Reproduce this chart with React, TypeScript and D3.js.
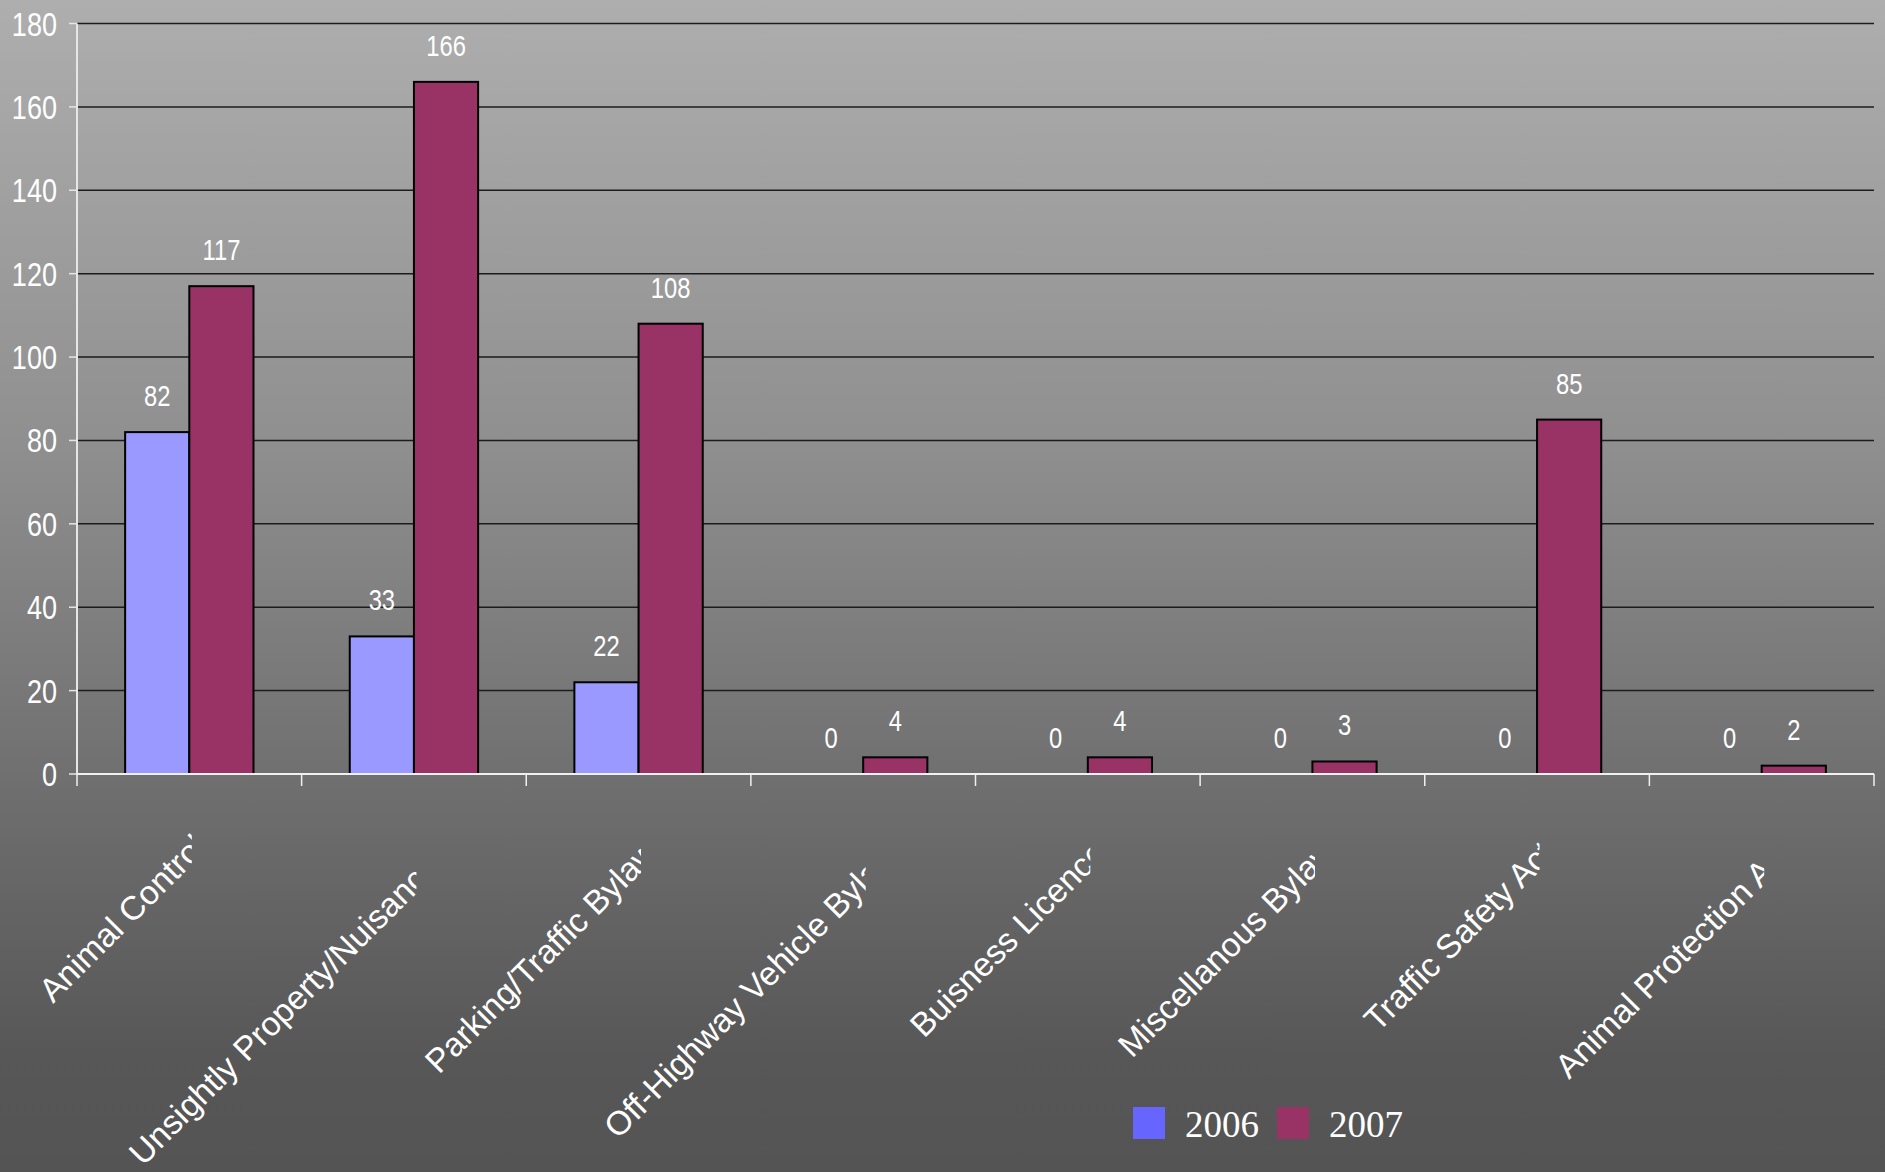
import React from "react";
import * as d3 from "d3";

const categories = [
  "Animal Control",
  "Unsightly Property/Nuisance",
  "Parking/Traffic Bylaw",
  "Off-Highway Vehicle Bylaw",
  "Buisness Licence",
  "Miscellanous Bylaw",
  "Traffic Safety Act",
  "Animal Protection Act",
];
const seriesNames = ["2006", "2007"];
const values2006 = [82, 33, 22, 0, 0, 0, 0, 0];
const values2007 = [117, 166, 108, 4, 4, 3, 85, 2];
const yTicks = [0, 20, 40, 60, 80, 100, 120, 140, 160, 180];
// where each rotated category label starts (baseline origin of first glyph)
const labelStarts: [number, number][] = [
  [53, 1004],
  [143, 1167],
  [439, 1075],
  [618, 1140],
  [924, 1039],
  [1132, 1059],
  [1378, 1033],
  [1569, 1080],
];

const W = 1885;
const H = 1172;
const left = 77;
const right = 1874;
const top = 23.5;
const bottom = 774;

const barColors = ["#9999ff", "#993366"];
const legendColors = ["#6666ff", "#993366"];
const SX = 0.82;

export default function App() {
  const x0 = d3.scaleBand<string>().domain(categories).range([left, right]).padding(0);
  const bw = x0.bandwidth();
  const x1 = d3
    .scaleBand<string>()
    .domain(seriesNames)
    .range([0, bw])
    .paddingInner(0)
    .paddingOuter(0.75);
  const y = d3.scaleLinear().domain([0, 180]).range([bottom, top]);
  const series = [values2006, values2007];
  const font = "'Liberation Sans', Arial, sans-serif";

  return (
    <svg
      width={W}
      height={H}
      style={{ position: "absolute", left: 0, top: 0 }}
      xmlns="http://www.w3.org/2000/svg"
    >
      <defs>
        <linearGradient id="bg" x1="0" y1="0" x2="0" y2="1">
          <stop offset="0" stopColor="#aeaeae" />
          <stop offset="0.38" stopColor="#8f8f8f" />
          <stop offset="0.67" stopColor="#6f6f6f" />
          <stop offset="0.9" stopColor="#575757" />
          <stop offset="1" stopColor="#545454" />
        </linearGradient>
        {categories.map((c, i) => {
          const cx = (x0(c) as number) + bw / 2;
          return (
            <clipPath id={`clip${i}`} key={c}>
              <rect x={0} y={bottom + 14} width={cx + 2.5} height={H} />
            </clipPath>
          );
        })}
      </defs>
      <rect x={0} y={0} width={W} height={H} fill="url(#bg)" />

      {/* gridlines */}
      {yTicks
        .filter((t) => t > 0)
        .map((t) => (
          <line
            key={t}
            x1={left}
            x2={right}
            y1={y(t)}
            y2={y(t)}
            stroke="#1c1c1c"
            strokeWidth={1.5}
          />
        ))}

      {/* bars */}
      {categories.map((c, i) => (
        <g key={c} transform={`translate(${x0(c)},0)`}>
          {seriesNames.map((s, j) => {
            const v = series[j][i];
            if (v <= 0) return null;
            return (
              <rect
                key={s}
                x={x1(s)}
                y={y(v)}
                width={x1.bandwidth()}
                height={y(0) - y(v)}
                fill={barColors[j]}
                stroke="#000"
                strokeWidth={2}
              />
            );
          })}
        </g>
      ))}

      {/* data labels */}
      {categories.map((c, i) =>
        seriesNames.map((s, j) => {
          const v = series[j][i];
          const cx = (x0(c) as number) + (x1(s) as number) + x1.bandwidth() / 2;
          const cy = y(v) - 26;
          return (
            <text
              key={c + s}
              transform={`translate(${cx},${cy}) scale(${SX},1)`}
              textAnchor="middle"
              fill="#fff"
              fontFamily={font}
              fontSize={29}
            >
              {v}
            </text>
          );
        })
      )}

      {/* y axis */}
      <line x1={left} x2={left} y1={top} y2={bottom} stroke="#e6e6e6" strokeWidth={2} />
      {yTicks.map((t) => (
        <g key={t}>
          <line x1={left - 8} x2={left} y1={y(t)} y2={y(t)} stroke="#e6e6e6" strokeWidth={1.5} />
          <text
            transform={`translate(${left - 20},${y(t) + 12}) scale(${SX},1)`}
            textAnchor="end"
            fill="#fff"
            fontFamily={font}
            fontSize={33}
          >
            {t}
          </text>
        </g>
      ))}

      {/* x axis */}
      <line x1={left} x2={right} y1={bottom} y2={bottom} stroke="#f0f0f0" strokeWidth={2} />
      {[...categories.map((c) => x0(c) as number), right].map((xv, i) => (
        <line
          key={i}
          x1={xv}
          x2={xv}
          y1={bottom}
          y2={bottom + 12}
          stroke="#f0f0f0"
          strokeWidth={1.5}
        />
      ))}

      {/* category labels */}
      {categories.map((c, i) => (
        <g key={c} clipPath={`url(#clip${i})`}>
          <text
            transform={`translate(${labelStarts[i][0]},${labelStarts[i][1]}) rotate(-45)`}
            fill="#fff"
            fontFamily={font}
            fontSize={33.5}
          >
            {c}
          </text>
        </g>
      ))}

      {/* legend */}
      {seriesNames.map((s, j) => (
        <g key={s} transform={`translate(${1133 + j * 144},1107)`}>
          <rect x={0} y={0} width={32} height={32} fill={legendColors[j]} />
          <text
            x={52}
            y={30}
            fill="#fff"
            fontFamily="'Liberation Serif', 'Times New Roman', serif"
            fontSize={37}
          >
            {s}
          </text>
        </g>
      ))}
    </svg>
  );
}
